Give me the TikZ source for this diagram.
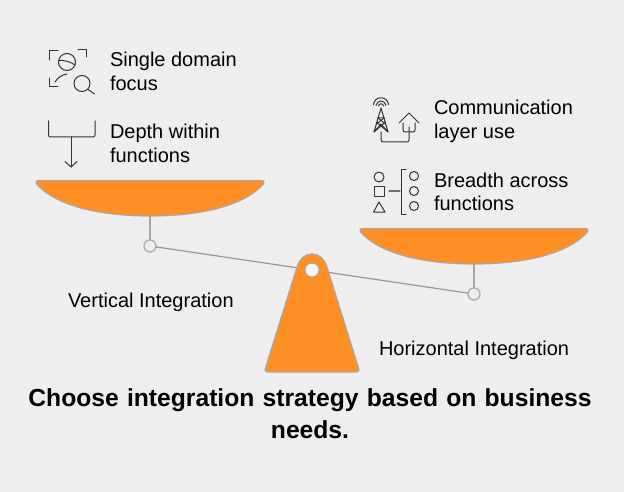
\documentclass[tikz,border=0pt]{standalone}
\usepackage{fontspec}
\setmainfont{Liberation Sans}
\definecolor{bgc}{HTML}{EEEEEE}
\definecolor{orangefill}{HTML}{FF8F24}
\definecolor{edgec}{HTML}{A8A8A8}
\definecolor{iconc}{HTML}{333333}
\tikzset{
  label text/.style={font=\fontsize{20}{24}\selectfont, text=black, align=left, anchor=base west, inner sep=0pt, outer sep=0pt},
  cap text/.style={font=\fontsize{20}{24}\selectfont, text=black, anchor=base west, inner sep=0pt, outer sep=0pt},
  title text/.style={font=\fontsize{24.66}{32}\selectfont\bfseries, text=black, align=center, anchor=center, inner sep=0pt, text width=600pt},
  panshape/.style={fill=orangefill, draw=edgec, line width=1.2pt, line join=round},
  hanger/.style={draw=edgec, line width=1.5pt},
  pivot/.style={circle, draw=edgec, line width=1.2pt, fill=bgc, minimum size=12pt, inner sep=0pt, outer sep=0pt},
  beam/.style={draw=edgec!90!black, line width=1.2pt},
  icon/.style={draw=iconc, line width=1pt, line join=round, line cap=round, fill=none},
}
\begin{document}
\begin{tikzpicture}[x=1pt,y=-1pt]
\useasboundingbox[fill=bgc] (0,0) rectangle (624,492);

% scale connectors
\node[pivot] (lp) at (150,246) {};
\node[pivot] (rp) at (474,294) {};
\coordinate (lpanb) at (150,216);
\coordinate (rpanb) at (474,264);
\coordinate (fulc) at (312,270);
\draw[hanger] (lpanb) -- (lp);
\draw[hanger] (rpanb) -- (rp);
\draw[beam] (lp) -- (rp);

% pans
\draw[panshape] (38.5,180.5) -- (261.5,180.5) .. controls (264.5,180.5) and (264.5,183) .. (262.5,185)
  .. controls (243,206) and (200,216) .. (150,216)
  .. controls (100,216) and (57,206) .. (37.5,185)
  .. controls (35.5,183) and (35.5,180.5) .. (38.5,180.5) -- cycle;
\draw[panshape] (362.5,228.5) -- (585.5,228.5) .. controls (588.5,228.5) and (588.5,231) .. (586.5,233)
  .. controls (567,254) and (524,264) .. (474,264)
  .. controls (424,264) and (381,254) .. (361.5,233)
  .. controls (359.5,231) and (359.5,228.5) .. (362.5,228.5) -- cycle;

% fulcrum
\draw[panshape] (297,267) .. controls (299.5,259) and (305,254) .. (312,254)
  .. controls (319,254) and (324.5,259) .. (327,267)
  -- (358.5,368) .. controls (359.5,371) and (358.5,372) .. (355.5,372)
  -- (268.5,372) .. controls (265.5,372) and (264.5,371) .. (265.5,368) -- cycle;
\node[circle, draw=edgec, line width=1pt, fill=bgc!60!white, minimum size=14pt, inner sep=0pt] (hole) at (fulc) {};

% icon 1: single domain focus
\draw[icon] (49.5,60) -- (49.5,50.5) -- (58,50.5);
\draw[icon] (78,50) -- (86.5,50) -- (86.5,57);
\draw[icon] (49.5,78) -- (49.5,87) -- (58,87);
\draw[icon] (55,82) .. controls (58,77) and (62,75) .. (67,74);
\draw[icon] (67,62) circle (8.5);
\draw[icon] (58.7,60.5) .. controls (64,60) and (70,61.5) .. (75,65);
\draw[icon] (82,83.5) circle (8);
\draw[icon] (88,89.5) -- (94.5,94);

% icon 2: depth
\draw[icon, rounded corners=2pt] (48.5,121) -- (48.5,137) -- (95,137) -- (95,121);
\draw[icon] (71,137) -- (71,167);
\draw[icon] (65,161.5) -- (71,167) -- (77,161.5);

% icon 3: communication
\draw[icon] (373.5,104.5) .. controls (374.5,95.5) and (387.5,95.5) .. (388.5,104.5);
\draw[icon] (376,105.5) .. controls (377,99.5) and (385,99.5) .. (386,105.5);
\draw[icon] (378.5,106) .. controls (379,103) and (383,103) .. (383.5,106);
\draw[icon] (374,132) -- (381,108) -- (388,132) -- (381,124) -- cycle;
\draw[icon] (377.5,118) -- (384.5,118) (376.5,122) -- (388,132) (385.5,122) -- (374,132);
\draw[icon] (378,118) -- (385.5,124) (384,118) -- (376.5,124);
\draw[icon, rounded corners=2pt] (381,132) -- (381,142) -- (409,142) -- (409,127);
\draw[icon] (399,123) -- (409,113) -- (419,123);
\draw[icon, rounded corners=2pt] (403,123) -- (403,132) -- (415,132) -- (415,123);

% icon 4: breadth
\draw[icon] (379,177) circle (5);
\draw[icon] (374.5,186.5) rectangle (384,196);
\draw[icon] (379,202) -- (385,212) -- (373.5,212) -- cycle;
\draw[icon, line width=1.3pt, draw=iconc!70] (389,191) -- (400,191);
\draw[icon] (406,170) -- (401,170) -- (401,214) -- (406,214);
\draw[icon] (414,176) circle (4.5);
\draw[icon] (414,191) circle (4.5);
\draw[icon] (414,206) circle (4.5);

% texts
\node[label text] (t1a) at (110,67) {Single domain};
\node[label text] (t1b) at (110,91) {focus};
\node[label text] (t2a) at (110,139) {Depth within};
\node[label text] (t2b) at (110,163) {functions};
\node[label text] (t3a) at (434,115) {Communication};
\node[label text] (t3b) at (434,139) {layer use};
\node[label text] (t4a) at (434,187) {Breadth across};
\node[label text] (t4b) at (434,211) {functions};
\node[cap text] (vi) at (68,307) {Vertical Integration};
\node[cap text] (hi) at (379,355) {Horizontal Integration};
\node[title text] (title) at (310,414) {Choose integration strategy based on business\\needs.};
\end{tikzpicture}
\end{document}
